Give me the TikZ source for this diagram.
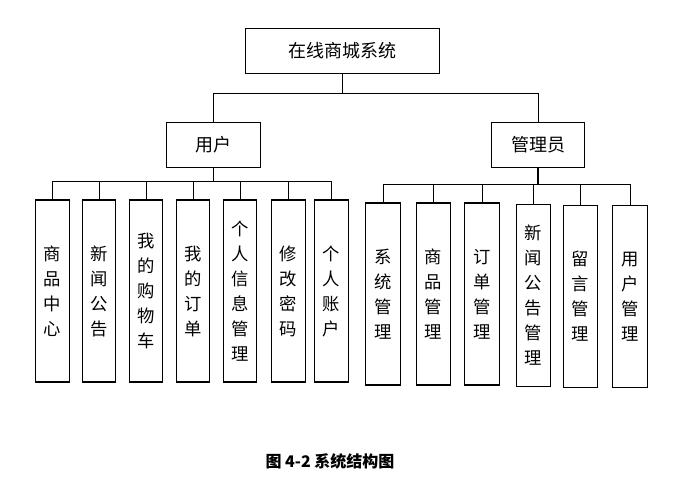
\documentclass[tikz,border=0pt]{standalone}
\usepackage{fontspec}
\setmainfont{Noto Sans CJK SC}
\usepackage{tikz}
\usetikzlibrary{calc,positioning}

\begin{document}
\begin{tikzpicture}[x=0.75pt, y=-0.75pt,
  topbox/.style={rectangle, draw=black, line width=0.9pt, fill=white, minimum width=145pt, minimum height=34pt, inner sep=0pt, font=\fontsize{13.5}{16}\selectfont},
  rolebox/.style={rectangle, draw=black, line width=0.9pt, fill=white, minimum width=70pt, minimum height=33.5pt, inner sep=0pt, font=\fontsize{13.5}{16}\selectfont},
  funcbox/.style={rectangle, draw=black, line width=0.9pt, fill=white, minimum width=25pt, minimum height=136.5pt, inner sep=0pt, align=center, font=\fontsize{13}{18.75}\selectfont},
  link/.style={draw=black, line width=0.75pt},
  thicklink/.style={draw=black, line width=1.4pt}
]
\useasboundingbox (0,0) rectangle (678,476);

% Root
\node[topbox] (root) at (342.5, 51) {在线商城系统};

% Roles
\node[rolebox] (user) at (213.5, 145) {用户};
\node[rolebox] (admin) at (538, 145) {管理员};

% Junctions
\coordinate (rootbar) at (342.5, 93);
\coordinate (userbar) at (213.5, 181.5);
\coordinate (adminbar) at (538, 184.5);

% User functions
\node[funcbox] (goods) at (52.5, 291) {商\\品\\中\\心};
\node[funcbox] (news) at (99, 291) {新\\闻\\公\\告};
\node[funcbox] (cart) at (146, 291) {我\\的\\购\\物\\车};
\node[funcbox] (order) at (193, 291) {我\\的\\订\\单};
\node[funcbox] (info) at (240, 291) {个\\人\\信\\息\\管\\理};
\node[funcbox] (passwd) at (288.5, 291) {修\\改\\密\\码};
\node[funcbox] (account) at (331.5, 291) {个\\人\\账\\户};

% Admin functions
\node[funcbox, minimum width=26pt] (sysmgr) at (383, 294) {系\\统\\管\\理};
\node[funcbox, minimum width=26pt] (goodsmgr) at (433.5, 294) {商\\品\\管\\理};
\node[funcbox, minimum width=26pt] (ordermgr) at (482, 294) {订\\单\\管\\理};
\node[funcbox, minimum width=26pt] (newsmgr) at (533.5, 295.5) {新\\闻\\公\\告\\管\\理};
\node[funcbox, minimum width=26pt] (msgmgr) at (580.5, 296.5) {留\\言\\管\\理};
\node[funcbox, minimum width=26pt] (usermgr) at (630, 296.5) {用\\户\\管\\理};

% Connections
\draw[link] (root) -- (rootbar);
\draw[link] (user) |- (rootbar);
\draw[link] (admin) |- (rootbar);

\draw[thicklink] (user) -- (userbar);
\draw[link] (goods) |- (userbar);
\draw[link] (news) |- (userbar);
\draw[link] (cart) |- (userbar);
\draw[link] (order) |- (userbar);
\draw[link] (info) |- (userbar);
\draw[link] (passwd) |- (userbar);
\draw[link] (account) |- (userbar);

\draw[thicklink] (admin) -- (adminbar);
\draw[link] (sysmgr) |- (adminbar);
\draw[link] (goodsmgr) |- (adminbar);
\draw[link] (ordermgr) |- (adminbar);
\draw[link] (newsmgr) |- (adminbar);
\draw[link] (msgmgr) |- (adminbar);
\draw[link] (usermgr) |- (adminbar);

% Caption
\node[font=\fontsize{12}{14}\selectfont\bfseries] (caption) at (330, 461) {图 4-2 系统结构图};

\end{tikzpicture}
\end{document}
